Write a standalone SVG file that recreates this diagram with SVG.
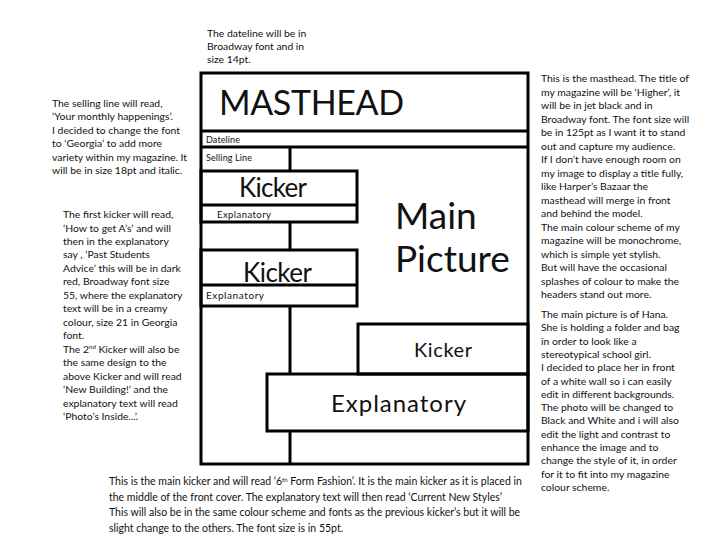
<svg xmlns="http://www.w3.org/2000/svg" width="728" height="546" viewBox="0 0 728 546">
<style>
.frame{fill:none;stroke:#000;stroke-width:3}
.ln{stroke:#000;stroke-width:3;fill:none}
text{font-family:Lato,"Open Sans","Liberation Sans",sans-serif;fill:#111}
.note{font-size:10.4px}
.bnote{font-size:10.5px}
.sup{font-size:6px}
</style>
<rect width="728" height="546" fill="#fff"/>
<g id="connectors">
<rect class="frame" x="201" y="73" width="327" height="391"/>
<line class="ln" x1="201" y1="131" x2="528" y2="131"/>
<line class="ln" x1="201" y1="147" x2="528" y2="147"/>
<line class="ln" x1="290" y1="147" x2="290" y2="171"/>
<line class="ln" x1="290" y1="222" x2="290" y2="250"/>
<line class="ln" x1="290" y1="306" x2="290" y2="374"/>
<line class="ln" x1="290" y1="431" x2="290" y2="464"/>
</g>
<g id="masthead"><text x="219" y="115" font-size="34" textLength="185">MASTHEAD</text></g>
<g id="dateline"><text x="206" y="143" font-size="9" textLength="34">Dateline</text></g>
<g id="selling-line"><text x="206" y="161" font-size="9" textLength="46">Selling Line</text></g>
<g id="kicker1">
<rect class="frame" x="201" y="171" width="156" height="51"/>
<line class="ln" x1="201" y1="205" x2="357" y2="205"/>
<text x="239" y="197" font-size="26" textLength="68">Kicker</text>
<text x="217" y="218" font-size="9.5" textLength="54">Explanatory</text>
</g>
<g id="kicker2">
<rect class="frame" x="201" y="250" width="156" height="56"/>
<line class="ln" x1="201" y1="285" x2="357" y2="285"/>
<text x="243" y="282" font-size="26" textLength="69">Kicker</text>
<text x="206" y="299" font-size="10" textLength="58">Explanatory</text>
</g>
<g id="main-picture">
<text x="395" y="229" font-size="37">Main</text>
<text x="395" y="272" font-size="37">Picture</text>
</g>
<g id="kicker3">
<rect class="frame" x="358" y="324" width="170" height="50"/>
<text x="414" y="357" font-size="20" textLength="58">Kicker</text>
</g>
<g id="explanatory-main">
<rect class="frame" x="267" y="374" width="261" height="57"/>
<text x="331" y="412" font-size="24" textLength="135">Explanatory</text>
</g>
<g id="note-dateline" class="note">
<text x="207" y="37">The dateline will be in</text>
<text x="207" y="50">Broadway font and in</text>
<text x="207" y="63">size 14pt.</text>
</g>
<g id="note-selling" class="note">
<text x="52" y="107">The selling line will read,</text>
<text x="52" y="120.4">‘Your monthly happenings’.</text>
<text x="52" y="133.8">I decided to change the font</text>
<text x="52" y="147.2">to ‘Georgia’ to add more</text>
<text x="52" y="160.6">variety within my magazine. It</text>
<text x="52" y="174">will be in size 18pt and italic.</text>
</g>
<g id="note-kickers" class="note">
<text x="63" y="218">The first kicker will read,</text>
<text x="63" y="231.5">‘How to get A’s’ and will</text>
<text x="63" y="245">then in the explanatory</text>
<text x="63" y="258.4">say , ‘Past Students</text>
<text x="63" y="271.9">Advice’  this will be in dark</text>
<text x="63" y="285.4">red, Broadway font size</text>
<text x="63" y="298.8">55, where the explanatory</text>
<text x="63" y="312.3">text will be in a creamy</text>
<text x="63" y="325.8">colour, size 21 in Georgia</text>
<text x="63" y="339.2">font.</text>
<text x="63" y="352.7">The 2<tspan class="sup" dy="-3.5">nd</tspan><tspan dy="3.5"> Kicker will also be</tspan></text>
<text x="63" y="366.2">the same design to the</text>
<text x="63" y="379.6">above Kicker and will read</text>
<text x="63" y="393.1">‘New Building!’ and the</text>
<text x="63" y="406.6">explanatory text will read</text>
<text x="63" y="420">‘Photo’s Inside...’.</text>
</g>
<g id="note-masthead" class="note">
<text x="541" y="82">This is the masthead. The title of</text>
<text x="541" y="95.5">my magazine will be ‘Higher’, it</text>
<text x="541" y="109">will be in jet black and in</text>
<text x="541" y="122.5">Broadway font. The font size will</text>
<text x="541" y="136">be in 125pt as I want it to stand</text>
<text x="541" y="149.5">out and capture my audience.</text>
<text x="541" y="163">If I don’t have enough room on</text>
<text x="541" y="176.5">my image to display a title fully,</text>
<text x="541" y="190">like Harper’s Bazaar the</text>
<text x="541" y="203.5">masthead will merge in front</text>
<text x="541" y="217">and behind the model.</text>
<text x="541" y="230.5">The main colour scheme of my</text>
<text x="541" y="244">magazine will be monochrome,</text>
<text x="541" y="257.5">which is simple yet stylish.</text>
<text x="541" y="271">But will have the occasional</text>
<text x="541" y="284.5">splashes of colour to make the</text>
<text x="541" y="298">headers stand out more.</text>
</g>
<g id="note-picture" class="note">
<text x="541" y="318">The main picture is of Hana.</text>
<text x="541" y="331.3">She is holding a folder and bag</text>
<text x="541" y="344.6">in order to look like a</text>
<text x="541" y="357.9">stereotypical school girl.</text>
<text x="541" y="371.2">I decided to place her in front</text>
<text x="541" y="384.5">of a white wall so i can easily</text>
<text x="541" y="397.8">edit in different backgrounds.</text>
<text x="541" y="411.1">The photo will be changed to</text>
<text x="541" y="424.4">Black and White and i will also</text>
<text x="541" y="437.7">edit the light and contrast to</text>
<text x="541" y="451">enhance the image and to</text>
<text x="541" y="464.3">change the style of it, in order</text>
<text x="541" y="477.6">for it to fit into my magazine</text>
<text x="541" y="490.9">colour scheme.</text>
</g>
<g id="note-main-kicker" class="bnote">
<text x="109" y="485">This is the main kicker and will read ‘6<tspan class="sup" dy="-3.5">th</tspan><tspan dy="3.5"> Form Fashion’. It is the main kicker as it is placed in</tspan></text>
<text x="109" y="500.5">the middle of the front cover. The explanatory text will then read ‘Current New Styles’</text>
<text x="109" y="516">This will also be in the same colour scheme and fonts as the previous kicker’s but it will be</text>
<text x="109" y="531.5">slight change to the others. The font size is in 55pt.</text>
</g>
</svg>
